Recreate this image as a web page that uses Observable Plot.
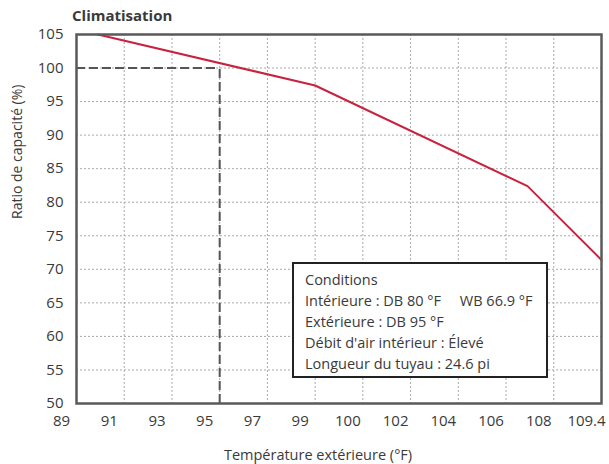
<!DOCTYPE html>
<html>
<head>
<meta charset="utf-8">
<script src="https://cdn.jsdelivr.net/npm/d3@7"></script>
<script src="https://cdn.jsdelivr.net/npm/@observablehq/plot@0.6"></script>
<style>
  body { margin: 0; background: #fff; }
  #wrap { position: relative; width: 609px; height: 464px; font-family: "Open Sans", sans-serif; color: #333; }
  #title { position: relative; top: 6px; z-index: 2; height: 18px; padding-left: 72px; line-height: 18px; font-size: 15px; font-weight: bold; color: #3a3a3a; }
  #box { position: absolute; left: 292px; top: 262px; width: 256px; height: 116px; box-sizing: border-box; z-index: 2;
         border: 2px solid #222; background: #fff; padding: 5px 0 0 11px; font-size: 14.5px; line-height: 21px; color: #3a3a3a; white-space: pre; }
</style>
</head>
<body>
<div id="wrap">
  <div id="title"></div>
  <div id="chart"></div>
  <div id="box"></div>
</div>
<script>
const chartTitle = "Climatisation";
const xLabel = "Température extérieure (°F)";
const yLabel = "Ratio de capacité (%)";
const xTicks = [89, 91, 93, 95, 97, 99, 100, 102, 104, 106, 108, 109.4];
const yTicks = [50, 55, 60, 65, 70, 75, 80, 85, 90, 95, 100, 105];
const curveTemp = [89.9, 99.0, 106.9, 109.4];
const curveRatio = [105, 97.4, 82.4, 71.4];
const refTemp = 95;
const refRatio = 100;
const conditions = [
  "Conditions",
  "Intérieure : DB 80 °F     WB 66.9 °F",
  "Extérieure : DB 95 °F",
  "Débit d'air intérieur : Élevé",
  "Longueur du tuyau : 24.6 pi"
];

document.getElementById("title").textContent = chartTitle;
document.getElementById("box").textContent = conditions.join("\n");

const width = 609, height = 446;
const mL = 76, mR = 8, mT = 16, mB = 61;
const step = (width - mL - mR) / (xTicks.length - 1);
const curve = curveTemp.map((t, i) => ({t, r: curveRatio[i]}));

const chart = Plot.plot({
  width, height,
  marginLeft: mL, marginRight: mR, marginTop: mT, marginBottom: mB,
  style: {fontFamily: "Open Sans, sans-serif", color: "#333", background: "#fff"},
  x: {type: "linear", domain: xTicks, range: xTicks.map((_, i) => mL + i * step)},
  y: {domain: [50, 105]},
  marks: [
    Plot.gridX(xTicks, {stroke: "#aaa", strokeOpacity: 1, strokeWidth: 1, strokeDasharray: "2,2"}),
    Plot.gridY(yTicks, {stroke: "#aaa", strokeOpacity: 1, strokeWidth: 1, strokeDasharray: "2,2"}),
    Plot.ruleY([refRatio], {x1: xTicks[0], x2: refTemp, stroke: "#555", strokeWidth: 2, strokeDasharray: "9,4"}),
    Plot.ruleX([refTemp], {y1: 50, y2: refRatio, stroke: "#555", strokeWidth: 2, strokeDasharray: "9,4"}),
    Plot.line(curve, {x: "t", y: "r", stroke: "#c8223f", strokeWidth: 2}),
    Plot.frame({stroke: "#5a5a5a", strokeWidth: 2.5}),
    Plot.axisX(xTicks, {tickSize: 0, tickPadding: 12, dx: -15, fontSize: 15, fill: "#3a3a3a", label: null, tickFormat: d => String(d)}),
    Plot.axisY(yTicks, {tickSize: 0, tickPadding: 13, fontSize: 15, fill: "#3a3a3a", label: null}),
    Plot.text([xLabel], {frameAnchor: "bottom", dy: 56, dx: -21, fontSize: 14.5, fill: "#3a3a3a"}),
    Plot.text([yLabel], {frameAnchor: "left", rotate: -90, dx: -59, fontSize: 14, fill: "#3a3a3a"})
  ]
});
document.getElementById("chart").appendChild(chart);
</script>
</body>
</html>
